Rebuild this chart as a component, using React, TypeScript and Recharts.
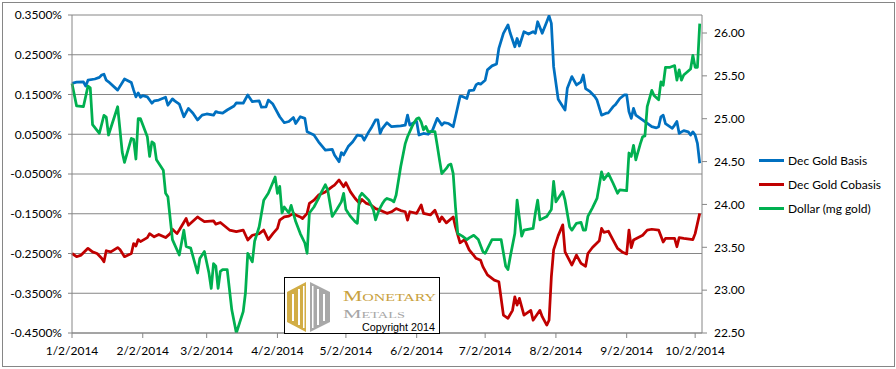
import { LineChart, Line, XAxis, YAxis, CartesianGrid } from 'recharts';

// x values are days counted from 1/2/2014
const dateTicks = [0, 31, 59, 90, 120, 151, 181, 212, 243, 273];
const dateLabels = ['1/2/2014', '2/2/2014', '3/2/2014', '4/2/2014', '5/2/2014', '6/2/2014', '7/2/2014', '8/2/2014', '9/2/2014', '10/2/2014'];
const pctTicks = [-0.45, -0.35, -0.25, -0.15, -0.05, 0.05, 0.15, 0.25, 0.35];
const mgTicks = [22.5, 23, 23.5, 24, 24.5, 25, 25.5, 26];

// Dec Gold Basis, in %
const basisPoints = [
  [0, 0.178], [2, 0.181], [5, 0.182], [6, 0.171], [7, 0.186], [10, 0.189], [12, 0.193], [13, 0.199], [14, 0.201],
  [15, 0.186], [16, 0.182], [20, 0.161], [23, 0.189], [26, 0.18], [27, 0.161], [28, 0.144], [29, 0.154], [30, 0.143],
  [31, 0.147], [33, 0.144], [34, 0.136], [35, 0.128], [36, 0.134], [38, 0.136], [41, 0.143], [42, 0.123], [44, 0.139],
  [45, 0.134], [47, 0.126], [49, 0.094], [51, 0.115], [53, 0.103], [55, 0.086], [57, 0.098], [59, 0.101], [62, 0.098],
  [63, 0.107], [64, 0.105], [66, 0.103], [68, 0.111], [71, 0.121], [72, 0.129], [75, 0.128], [77, 0.149], [79, 0.132],
  [82, 0.134], [83, 0.118], [85, 0.119], [86, 0.136], [88, 0.126], [91, 0.094], [93, 0.079], [95, 0.082], [97, 0.092],
  [98, 0.077], [100, 0.094], [102, 0.09], [103, 0.056], [106, 0.048], [108, 0.031], [111, 0.01], [114, 0.012],
  [115, -0.002], [117, -0.019], [118, 0.004], [119, -0.002], [121, 0.019], [123, 0.031], [125, 0.048], [127, 0.046],
  [128, 0.035], [130, 0.056], [131, 0.065], [133, 0.086], [134, 0.086], [135, 0.052], [136, 0.065], [138, 0.079],
  [140, 0.069], [144, 0.071], [146, 0.073], [147, 0.098], [148, 0.073], [149, 0.077], [151, 0.082], [152, 0.048],
  [154, 0.052], [156, 0.05], [158, 0.061], [160, 0.09], [161, 0.082], [162, 0.073], [163, 0.079], [165, 0.077],
  [167, 0.069], [168, 0.094], [170, 0.145], [171, 0.145], [173, 0.14], [174, 0.16], [176, 0.161], [177, 0.174],
  [178, 0.178], [179, 0.176], [181, 0.186], [182, 0.212], [184, 0.222], [186, 0.227], [187, 0.266], [189, 0.304],
  [191, 0.325], [192, 0.304], [194, 0.27], [195, 0.291], [196, 0.272], [198, 0.308], [200, 0.302], [202, 0.308],
  [203, 0.304], [204, 0.333], [206, 0.304], [208, 0.333], [209, 0.348], [210, 0.329], [211, 0.22], [213, 0.138],
  [215, 0.12], [216, 0.111], [217, 0.166], [219, 0.195], [221, 0.174], [223, 0.182], [224, 0.199], [225, 0.165],
  [227, 0.157], [229, 0.145], [230, 0.136], [232, 0.098], [234, 0.103], [235, 0.104], [237, 0.119], [238, 0.124],
  [240, 0.14], [242, 0.149], [243, 0.149], [244, 0.107], [245, 0.09], [246, 0.115], [247, 0.098], [249, 0.09],
  [251, 0.082], [254, 0.069], [256, 0.066], [257, 0.069], [258, 0.094], [259, 0.098], [260, 0.077], [263, 0.065],
  [264, 0.073], [265, 0.082], [266, 0.052], [267, 0.056], [268, 0.059], [270, 0.056], [271, 0.048], [272, 0.056],
  [273, 0.048], [274, 0.027], [275, -0.023],
];

// Dec Gold Cobasis, in %
const cobasisPoints = [
  [0, -0.25], [2, -0.258], [4, -0.254], [7, -0.237], [9, -0.246], [11, -0.25], [13, -0.262], [14, -0.271], [15, -0.243],
  [17, -0.246], [20, -0.235], [21, -0.24], [23, -0.258], [26, -0.25], [27, -0.225], [28, -0.231], [29, -0.215],
  [30, -0.22], [33, -0.21], [34, -0.2], [36, -0.208], [38, -0.202], [41, -0.21], [43, -0.2], [44, -0.189], [46, -0.2],
  [47, -0.191], [50, -0.162], [51, -0.179], [55, -0.158], [56, -0.162], [58, -0.17], [62, -0.168], [63, -0.176],
  [65, -0.172], [69, -0.191], [72, -0.195], [75, -0.191], [77, -0.216], [79, -0.204], [82, -0.2], [84, -0.191],
  [86, -0.215], [88, -0.2], [90, -0.187], [91, -0.166], [93, -0.158], [95, -0.156], [97, -0.149], [98, -0.153],
  [100, -0.158], [101, -0.162], [103, -0.149], [104, -0.124], [106, -0.116], [108, -0.103], [111, -0.095], [114, -0.082],
  [115, -0.078], [117, -0.065], [119, -0.082], [120, -0.072], [122, -0.095], [124, -0.111], [126, -0.124], [127, -0.114],
  [129, -0.124], [131, -0.128], [133, -0.137], [135, -0.141], [138, -0.149], [140, -0.145], [142, -0.137], [144, -0.142],
  [146, -0.145], [147, -0.166], [148, -0.145], [151, -0.149], [153, -0.128], [154, -0.149], [157, -0.153], [159, -0.141],
  [161, -0.17], [162, -0.158], [164, -0.173], [167, -0.158], [168, -0.183], [170, -0.223], [172, -0.215], [174, -0.241],
  [176, -0.255], [177, -0.262], [179, -0.267], [180, -0.283], [182, -0.304], [185, -0.317], [187, -0.321], [189, -0.405],
  [191, -0.413], [193, -0.393], [194, -0.359], [195, -0.38], [196, -0.363], [198, -0.405], [201, -0.393], [202, -0.418],
  [205, -0.393], [206, -0.409], [208, -0.43], [209, -0.418], [210, -0.309], [211, -0.241], [213, -0.205], [215, -0.178],
  [216, -0.246], [219, -0.279], [221, -0.254], [223, -0.275], [225, -0.282], [226, -0.25], [228, -0.235], [231, -0.218],
  [232, -0.187], [233, -0.197], [235, -0.194], [237, -0.216], [239, -0.237], [241, -0.246], [243, -0.251], [244, -0.191],
  [245, -0.235], [246, -0.216], [250, -0.204], [252, -0.191], [254, -0.189], [257, -0.191], [259, -0.221], [260, -0.212],
  [264, -0.212], [265, -0.233], [266, -0.21], [268, -0.212], [272, -0.215], [273, -0.2], [275, -0.149],
];

// Dollar priced in mg of gold (right axis)
const dollarPoints = [
  [0, 25.41], [2, 25.15], [5, 25.14], [7, 25.38], [8, 25.36], [9, 24.93], [12, 24.83], [14, 25.04], [15, 25.02],
  [16, 24.81], [20, 25.14], [22, 24.61], [23, 24.49], [26, 24.77], [27, 24.76], [28, 24.53], [29, 25.0], [30, 25.0],
  [33, 24.79], [34, 24.56], [35, 24.73], [36, 24.71], [37, 24.52], [40, 24.4], [41, 24.13], [42, 24.09], [44, 23.59],
  [47, 23.41], [49, 23.7], [50, 23.51], [52, 23.49], [55, 23.2], [56, 23.37], [58, 23.45], [60, 23.2], [61, 23.02],
  [62, 23.31], [63, 23.28], [64, 23.02], [65, 23.22], [66, 23.24], [68, 23.24], [70, 22.77], [72, 22.5], [75, 22.75],
  [76, 22.97], [77, 23.43], [79, 23.33], [80, 23.57], [82, 23.74], [84, 24.05], [85, 24.09], [86, 24.13], [89, 24.32],
  [90, 24.13], [91, 24.21], [92, 23.9], [93, 23.97], [95, 23.9], [96, 23.99], [98, 23.8], [100, 23.66], [102, 23.55],
  [103, 23.43], [104, 23.9], [106, 23.97], [108, 24.07], [109, 24.13], [111, 24.23], [112, 24.17], [114, 23.86],
  [116, 23.94], [118, 24.03], [119, 24.13], [120, 23.94], [122, 23.86], [124, 23.8], [125, 23.78], [126, 24.09],
  [127, 24.13], [130, 24.05], [132, 23.94], [133, 23.82], [134, 23.9], [135, 23.96], [136, 24.01], [137, 24.05],
  [138, 24.07], [140, 24.05], [141, 24.03], [142, 24.11], [144, 24.44], [146, 24.71], [147, 24.79], [149, 24.91],
  [150, 24.96], [151, 25.0], [152, 25.01], [153, 24.96], [154, 24.87], [155, 24.91], [156, 24.85], [159, 24.85],
  [160, 24.69], [161, 24.52], [162, 24.36], [164, 24.42], [165, 24.46], [166, 24.47], [167, 24.36], [168, 23.97],
  [169, 23.66], [171, 23.63], [173, 23.59], [174, 23.61], [176, 23.64], [178, 23.59], [180, 23.45], [181, 23.43],
  [184, 23.59], [188, 23.59], [190, 23.28], [191, 23.24], [192, 23.39], [194, 23.66], [195, 24.05], [197, 23.63],
  [198, 23.7], [202, 23.72], [203, 23.9], [204, 24.05], [205, 23.82], [208, 23.86], [210, 23.94], [211, 24.27],
  [212, 24.03], [215, 24.15], [216, 24.05], [218, 23.74], [219, 23.7], [221, 23.78], [223, 23.79], [224, 23.7],
  [225, 23.7], [226, 23.86], [228, 23.96], [230, 24.07], [232, 24.38], [233, 24.29], [235, 24.36], [237, 24.25],
  [239, 24.13], [240, 24.17], [243, 24.16], [244, 24.6], [245, 24.56], [246, 24.69], [247, 24.52], [249, 24.71],
  [250, 24.79], [251, 24.8], [252, 25.14], [254, 25.33], [255, 25.27], [257, 25.22], [258, 25.43], [259, 25.39],
  [260, 25.6], [262, 25.6], [264, 25.62], [265, 25.45], [266, 25.57], [267, 25.45], [268, 25.51], [271, 25.58],
  [272, 25.74], [273, 25.6], [274, 25.6], [275, 26.11],
];

const toRows = (pts: number[][]) => pts.map(([d, v]) => ({ d, v }));

const series = [
  { name: 'Dec Gold Basis', color: '#0070C0', axis: 'left', rows: toRows(basisPoints) },
  { name: 'Dec Gold Cobasis', color: '#C00000', axis: 'left', rows: toRows(cobasisPoints) },
  { name: 'Dollar (mg gold)', color: '#00B050', axis: 'right', rows: toRows(dollarPoints) },
];

const FONT = 'Lato, "Open Sans", sans-serif';
const AXIS_GRAY = '#868686';
const tickStyle = { fontSize: 12, fill: '#000', fontFamily: FONT };

const Logo = () => (
  <svg width={156} height={58} style={{ position: 'absolute', left: 284, top: 277 }}>
    <rect x={0.5} y={0.5} width={155} height={56} fill="#fff" stroke="#000" />
    {/* hexagon mark, gold half and grey half */}
    <polygon points="22,5 3,15 3,45 22,55" fill="#D2AD45" />
    <polygon points="26,5 46,15 46,45 26,55" fill="#A8A8A8" />
    <rect x={8} y={17} width={2} height={27} fill="#fff" />
    <rect x={14} y={12} width={2} height={36} fill="#fff" />
    <rect x={19} y={9} width={1.5} height={42} fill="#fff" />
    <rect x={28} y={9} width={1.5} height={42} fill="#fff" />
    <rect x={33} y={12} width={2} height={36} fill="#fff" />
    <rect x={39} y={17} width={2} height={27} fill="#fff" />
    <text x={59} y={24} fontFamily='"Liberation Serif", serif' fontSize={15} fill="#C9A23F"
      textLength={93} lengthAdjust="spacingAndGlyphs" style={{ fontVariant: 'small-caps' }}>Monetary</text>
    <text x={59} y={41} fontFamily='"Liberation Serif", serif' fontSize={13} fill="#A6A6A6"
      textLength={62} lengthAdjust="spacingAndGlyphs" style={{ fontVariant: 'small-caps' }}>Metals</text>
    <text x={78} y={54} fontFamily='"Liberation Sans", Arial, sans-serif' fontSize={11} fill="#000"
      textLength={73} lengthAdjust="spacingAndGlyphs">Copyright 2014</text>
  </svg>
);

const LegendBox = () => (
  <div style={{ position: 'absolute', left: 759, top: 148, fontFamily: FONT, fontSize: 12 }}>
    {series.map((s) => (
      <div key={s.name} style={{ display: 'flex', alignItems: 'center', height: 24 }}>
        <div style={{ width: 25, height: 3, background: s.color, marginRight: 4 }} />
        <span style={{ color: '#000' }}>{s.name}</span>
      </div>
    ))}
  </div>
);

export default function App() {
  return (
    <div style={{ position: 'absolute', left: 0, top: 0, width: 896, height: 369, background: '#fff' }}>
      <div style={{ position: 'absolute', left: 2, top: 2, width: 891, height: 363, border: `1px solid ${AXIS_GRAY}` }} />
      <LineChart width={896} height={369} margin={{ top: 15, right: 144, bottom: 6, left: 0 }}>
        <CartesianGrid yAxisId="left" vertical={false} stroke={AXIS_GRAY} strokeWidth={1} />
        <XAxis
          type="number"
          dataKey="d"
          domain={[0, 276]}
          ticks={dateTicks}
          tickFormatter={(v: number) => dateLabels[dateTicks.indexOf(v)]}
          tick={tickStyle}
          stroke={AXIS_GRAY}
          height={30}
          tickSize={5}
          tickMargin={8}
          interval={0}
          allowDuplicatedCategory={false}
        />
        <YAxis
          yAxisId="left"
          orientation="left"
          width={72}
          domain={[-0.45, 0.35]}
          ticks={pctTicks}
          allowDataOverflow
          tickFormatter={(v: number) => `${v.toFixed(4)}%`}
          tick={tickStyle}
          stroke={AXIS_GRAY}
          tickSize={4}
          tickMargin={6}
          interval={0}
        />
        <YAxis
          yAxisId="right"
          orientation="right"
          width={50}
          domain={[22.5, 26.21]}
          ticks={mgTicks}
          allowDataOverflow
          tickFormatter={(v: number) => v.toFixed(2)}
          tick={tickStyle}
          stroke={AXIS_GRAY}
          tickSize={5}
          tickMargin={7}
          interval={0}
        />
        {series.map((s) => (
          <Line
            key={s.name}
            data={s.rows}
            dataKey="v"
            name={s.name}
            yAxisId={s.axis}
            type="linear"
            stroke={s.color}
            strokeWidth={2.75}
            strokeLinejoin="round"
            dot={false}
            activeDot={false}
            isAnimationActive={false}
          />
        ))}
      </LineChart>
      <LegendBox />
      <Logo />
    </div>
  );
}
